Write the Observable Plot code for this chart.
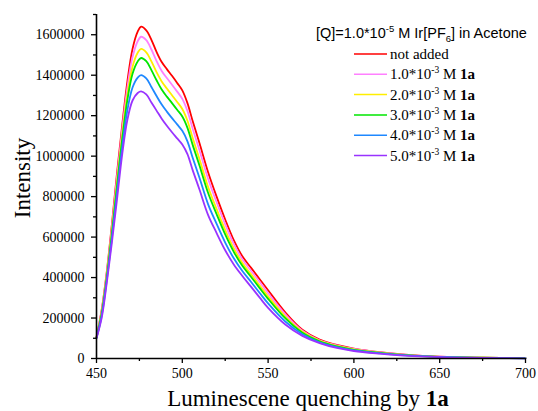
<!DOCTYPE html>
<html>
<head>
<meta charset="utf-8">
<script src="https://cdn.jsdelivr.net/npm/d3@7"></script>
<script src="https://cdn.jsdelivr.net/npm/@observablehq/plot@0.6"></script>
<style>
  html, body { margin: 0; padding: 0; background: #fff; }
  #chart { width: 538px; height: 411px; position: relative; }
</style>
</head>
<body>
<div id="chart"></div>
<script>
// ---- data ----
const wavelengths = [450,453,456,459,462,465,468,471,474,476,479,482,485,488,491,494,497,500,503,506,510,515,520,525,530,535,540,545,550,560,570,580,590,600,615,630,650,675,700];

const notAdded = [105000,240000,430000,665000,920000,1155000,1370000,1530000,1615000,1640000,1622000,1575000,1515000,1465000,1430000,1397000,1362000,1325000,1262000,1175000,1065000,922000,800000,687000,585000,505000,449000,393000,337000,228000,142000,93000,67000,49000,31000,19000,9000,4000,2000];
const q1 = [104000,234000,421000,651000,900000,1132000,1340000,1490000,1568000,1590000,1573000,1527000,1470000,1421000,1386000,1353000,1319000,1283000,1223000,1137000,1029000,889000,772000,663000,566000,490000,434000,379000,323000,219000,137000,90000,65000,47000,30000,18000,9000,4000,2000];
const q2 = [103000,226000,411000,634000,875000,1105000,1305000,1442000,1511000,1530000,1513000,1468000,1415000,1369000,1334000,1301000,1268000,1233000,1175000,1091000,986000,849000,738000,635000,544000,472000,417000,362000,307000,207000,132000,87000,62000,45000,29000,17000,8000,4000,2000];
const q3 = [103000,221000,403000,621000,857000,1085000,1278000,1407000,1468000,1485000,1469000,1425000,1375000,1329000,1294000,1262000,1229000,1196000,1140000,1057000,954000,819000,713000,613000,527000,458000,404000,349000,295000,199000,127000,85000,60000,43000,28000,17000,8000,4000,2000];
const q4 = [101000,210000,389000,598000,822000,1046000,1228000,1339000,1388000,1400000,1384000,1342000,1297000,1255000,1220000,1188000,1157000,1125000,1073000,993000,893000,763000,665000,573000,495000,432000,379000,325000,272000,183000,120000,80000,56000,40000,26000,15000,8000,3000,1000];
const q5 = [100000,200000,375000,575000,790000,1010000,1180000,1275000,1312000,1320000,1305000,1265000,1225000,1185000,1150000,1118000,1088000,1058000,1010000,932000,835000,710000,620000,535000,465000,408000,355000,302000,250000,168000,112000,76000,52000,37000,24000,14000,7000,3000,1000];

const seriesValues = [notAdded, q1, q2, q3, q4, q5];
const seriesColors = ["#ff0000", "#ff80ff", "#ffee00", "#00e600", "#1e88ff", "#9933ff"];
const concentrations = [null, "1.0", "2.0", "3.0", "4.0", "5.0"];

const xMajorTicks = [450, 500, 550, 600, 650, 700];
const xMinorTicks = [475, 525, 575, 625, 675];
const yMajorTicks = [0, 200000, 400000, 600000, 800000, 1000000, 1200000, 1400000, 1600000];
const yMinorTicks = [100000, 300000, 500000, 700000, 900000, 1100000, 1300000, 1500000, 1700000];

const legendTitle = {pre: "[Q]=1.0*10", sup: "-5", mid: " M Ir[PF", sub: "6", post: "] in Acetone"};
const xTitle = {plain: "Luminescene quenching by ", bold: "1a"};
const yTitle = "Intensity";

const SERIF = "Liberation Serif";
const SANS = "Liberation Sans";

// ---- build ----
const lineMarks = seriesValues.map((vals, i) =>
  Plot.line(wavelengths.map((w, j) => ({w, v: vals[j]})), {
    x: "w", y: "v", stroke: seriesColors[i], strokeWidth: 1.8, curve: "catmull-rom"
  })
);

const chart = Plot.plot({
  width: 538,
  height: 411,
  marginLeft: 96,
  marginRight: 13,
  marginTop: 14,
  marginBottom: 53,
  style: {fontFamily: SERIF, fontSize: "14px", color: "#000", background: "#fff", overflow: "visible"},
  x: {domain: [450, 700]},
  y: {domain: [0, 1700000]},
  marks: [
    ...lineMarks,
    Plot.axisY({ticks: yMajorTicks, tickSize: 5, tickPadding: 7, tickFormat: d => String(d), label: null, strokeWidth: 1.3, fontFamily: SERIF, fontSize: 14}),
    Plot.axisY({ticks: yMinorTicks, tickSize: 3, tickFormat: () => "", label: null, strokeWidth: 1.3}),
    Plot.axisX({ticks: xMajorTicks, tickSize: 5, tickPadding: 5, tickFormat: d => String(d), label: null, strokeWidth: 1.3, fontFamily: SERIF, fontSize: 14}),
    Plot.axisX({ticks: xMinorTicks, tickSize: 3, tickFormat: () => "", label: null, strokeWidth: 1.3}),
    Plot.ruleX([450], {y1: 0, y2: 1700000, stroke: "#000", strokeWidth: 1.6}),
    Plot.ruleY([0], {x1: 450, x2: 700, stroke: "#000", strokeWidth: 1.6})
  ]
});

const svg = d3.select(chart);
svg.selectAll("text").style("font-family", SERIF);

// axis titles
svg.append("text")
  .attr("transform", "translate(30,178) rotate(-90)")
  .attr("text-anchor", "middle")
  .style("font-family", SERIF)
  .style("font-size", "23px")
  .attr("fill", "#000")
  .text(yTitle);

const xt = svg.append("text")
  .attr("x", 308).attr("y", 406)
  .attr("text-anchor", "middle")
  .style("font-family", SERIF)
  .style("font-size", "23px")
  .attr("fill", "#000");
xt.append("tspan").text(xTitle.plain);
xt.append("tspan").attr("font-weight", "bold").text(xTitle.bold);

// legend title
const lt = svg.append("text")
  .attr("x", 316).attr("y", 38)
  .attr("text-anchor", "start")
  .style("font-family", SANS)
  .style("font-size", "14.5px")
  .attr("fill", "#000");
lt.append("tspan").text(legendTitle.pre);
lt.append("tspan").attr("dy", -6).style("font-size", "9.5px").text(legendTitle.sup);
lt.append("tspan").attr("dy", 6).text(legendTitle.mid);
lt.append("tspan").attr("dy", 4).style("font-size", "9.5px").text(legendTitle.sub);
lt.append("tspan").attr("dy", -4).text(legendTitle.post);

// legend rows
const legend = svg.append("g").attr("text-anchor", "start");
seriesColors.forEach((c, i) => {
  const y = 54 + i * 20.3;
  legend.append("line")
    .attr("x1", 354).attr("x2", 387).attr("y1", y).attr("y2", y)
    .attr("stroke", c).attr("stroke-width", 1.5);
  const t = legend.append("text")
    .attr("x", 390).attr("y", y + 5)
    .attr("text-anchor", "start")
    .style("font-family", SERIF)
    .style("font-size", "15px")
    .attr("fill", "#000");
  if (concentrations[i] === null) {
    t.append("tspan").text("not added");
  } else {
    t.append("tspan").text(concentrations[i] + "*10");
    t.append("tspan").attr("dy", -6).style("font-size", "9.5px").text("-3");
    t.append("tspan").attr("dy", 6).text(" M ");
    t.append("tspan").attr("font-weight", "bold").text("1a");
  }
});

document.getElementById("chart").appendChild(chart);
</script>
</body>
</html>
